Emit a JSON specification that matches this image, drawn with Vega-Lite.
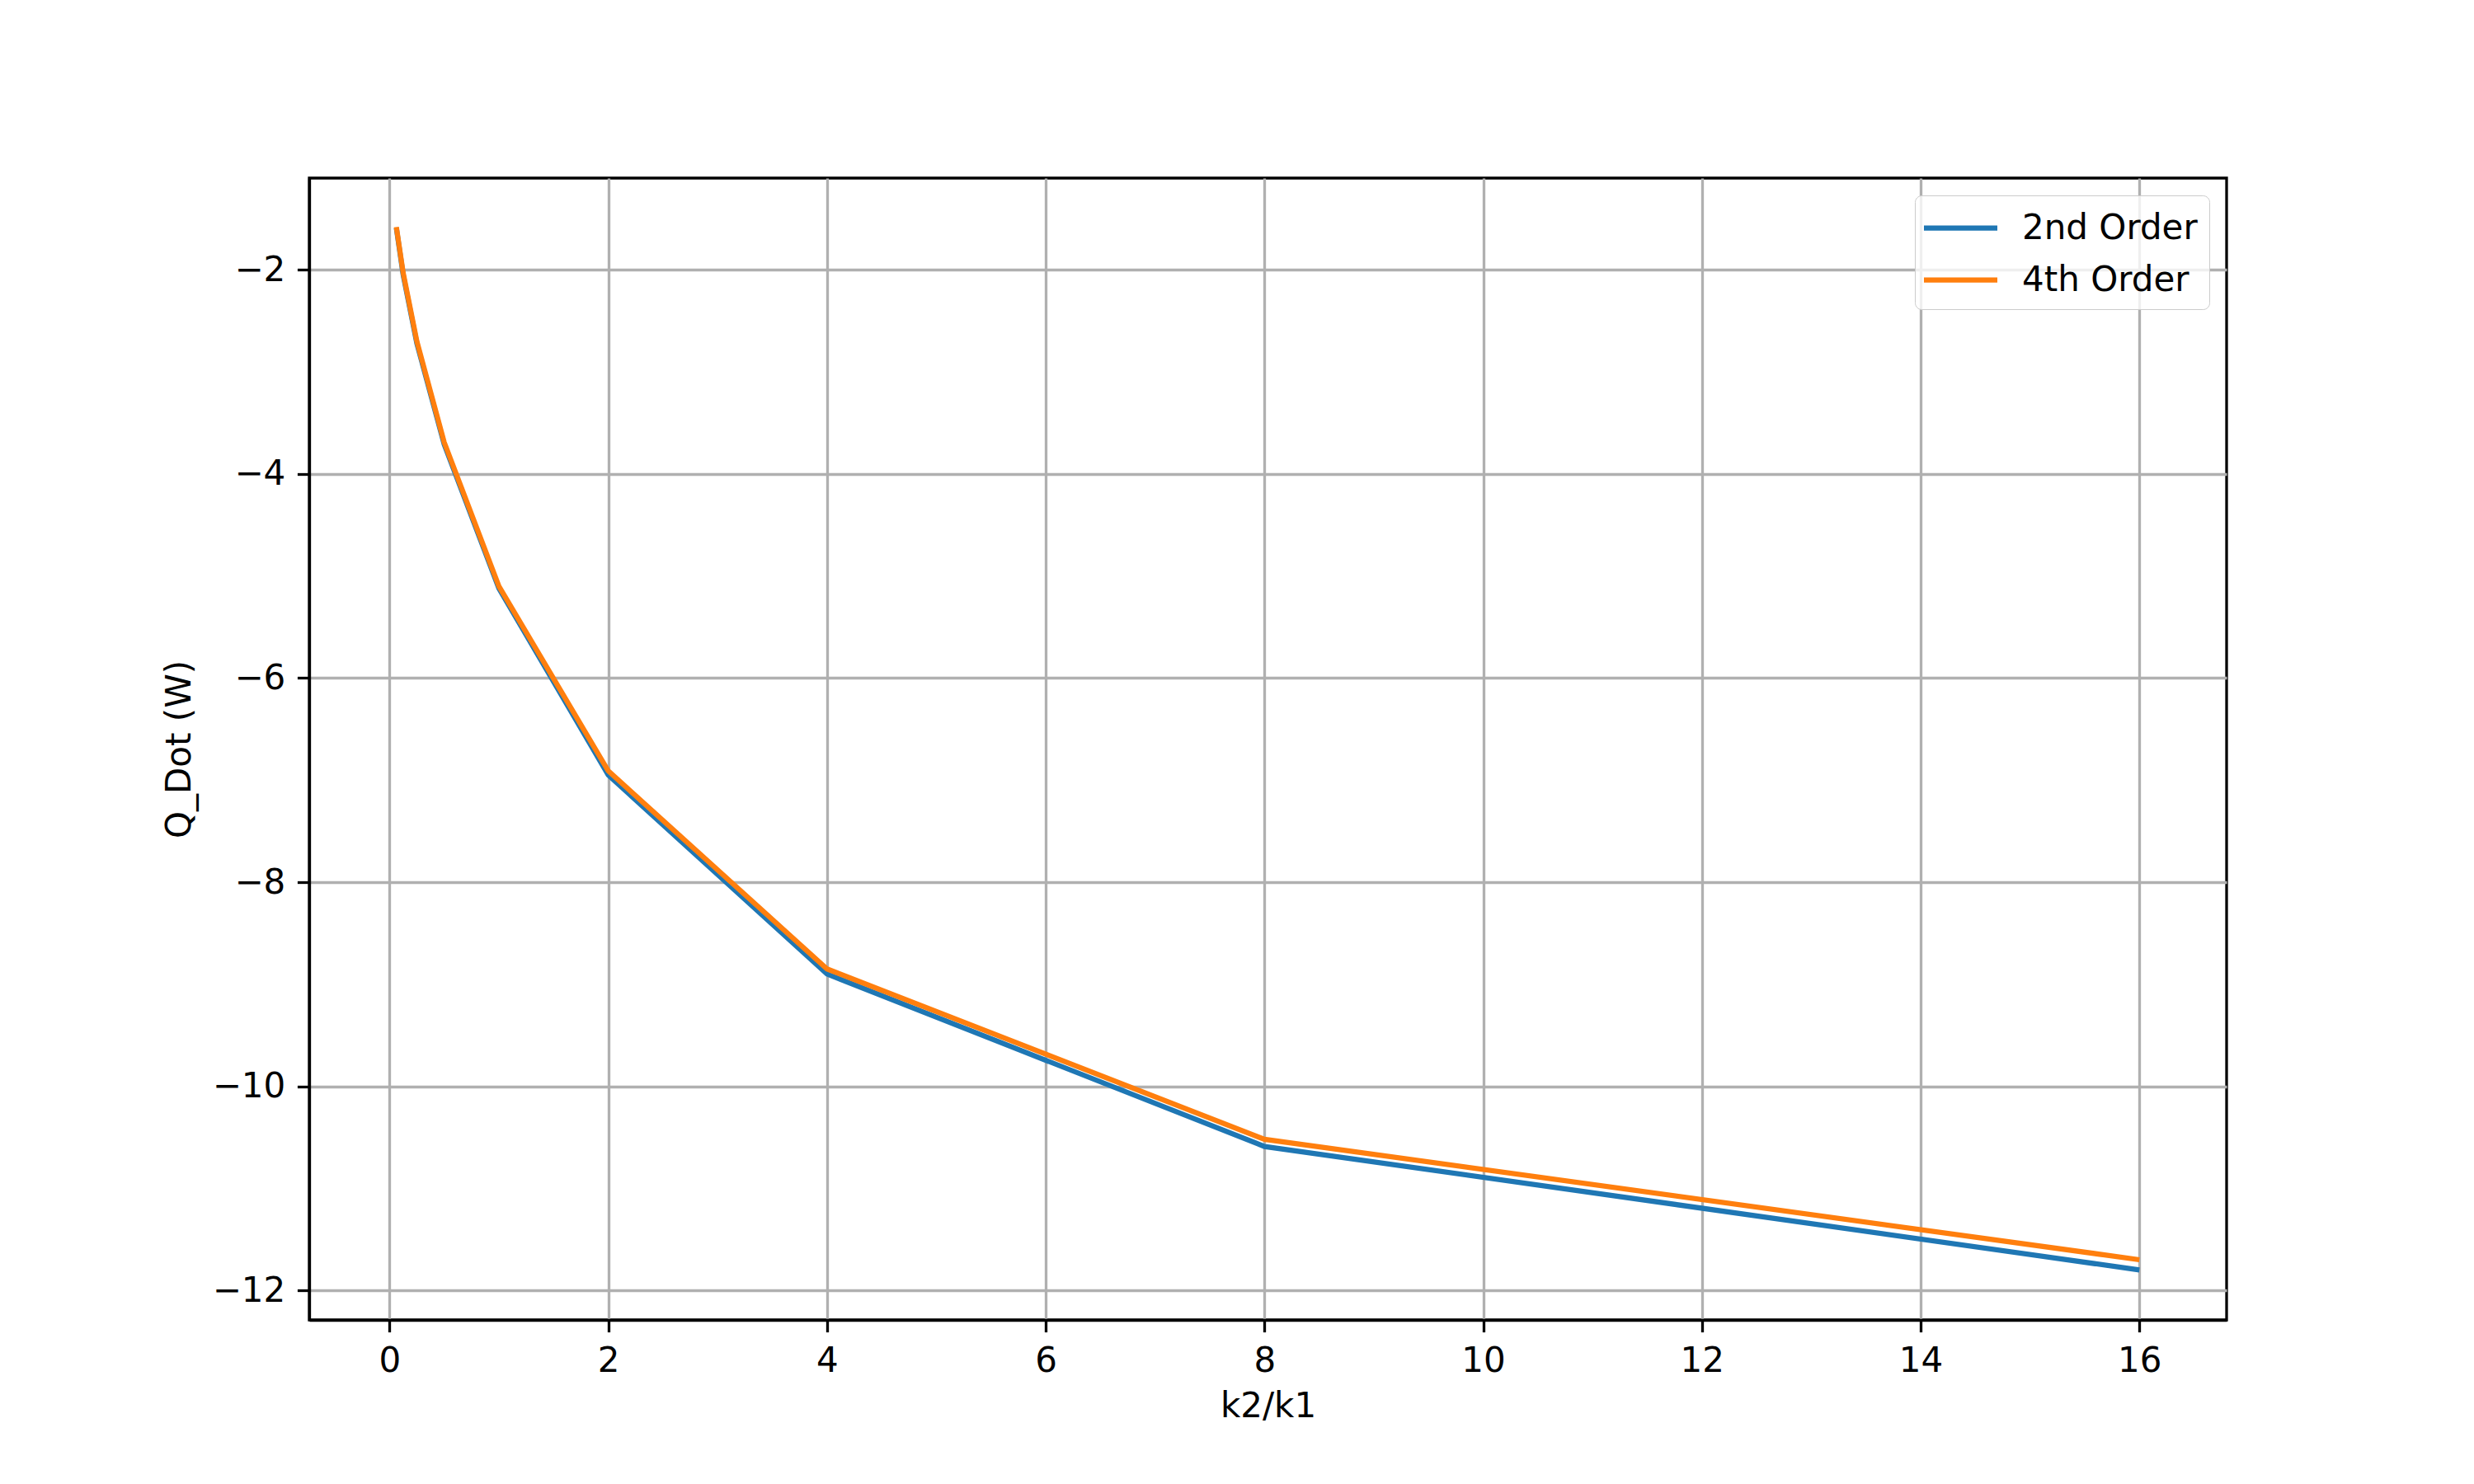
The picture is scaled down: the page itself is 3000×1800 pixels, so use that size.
{
  "$schema": "https://vega.github.io/schema/vega-lite/v6.json",
  "width": 2325,
  "height": 1385,
  "autosize": {"type": "none"},
  "padding": {"left": 375, "top": 216, "right": 300, "bottom": 199},
  "background": "white",
  "config": {
    "font": "DejaVu Sans",
    "view": {"stroke": "black", "strokeWidth": 3.3},
    "axis": {
      "labelFont": "DejaVu Sans",
      "titleFont": "DejaVu Sans",
      "labelFontSize": 42,
      "titleFontSize": 42,
      "titleFontWeight": "normal",
      "labelColor": "black",
      "titleColor": "black",
      "domainColor": "black",
      "domainWidth": 3.3,
      "tickColor": "black",
      "tickWidth": 3.3,
      "tickSize": 14.6,
      "labelPadding": 14.6,
      "gridColor": "#b0b0b0",
      "gridWidth": 3.3,
      "gridOpacity": 1
    },
    "legend": {
      "labelFont": "DejaVu Sans",
      "labelFontSize": 42,
      "labelColor": "black",
      "labelLimit": 1000
    }
  },
  "data": {
    "values": [
      {"ratio": 0.0625, "Q": -1.59, "series": "2nd Order"},
      {"ratio": 0.125, "Q": -2.05, "series": "2nd Order"},
      {"ratio": 0.25, "Q": -2.72, "series": "2nd Order"},
      {"ratio": 0.5, "Q": -3.71, "series": "2nd Order"},
      {"ratio": 1, "Q": -5.12, "series": "2nd Order"},
      {"ratio": 2, "Q": -6.95, "series": "2nd Order"},
      {"ratio": 4, "Q": -8.90, "series": "2nd Order"},
      {"ratio": 8, "Q": -10.59, "series": "2nd Order"},
      {"ratio": 16, "Q": -11.80, "series": "2nd Order"},
      {"ratio": 0.0625, "Q": -1.58, "series": "4th Order"},
      {"ratio": 0.125, "Q": -2.03, "series": "4th Order"},
      {"ratio": 0.25, "Q": -2.70, "series": "4th Order"},
      {"ratio": 0.5, "Q": -3.69, "series": "4th Order"},
      {"ratio": 1, "Q": -5.10, "series": "4th Order"},
      {"ratio": 2, "Q": -6.91, "series": "4th Order"},
      {"ratio": 4, "Q": -8.85, "series": "4th Order"},
      {"ratio": 8, "Q": -10.52, "series": "4th Order"},
      {"ratio": 16, "Q": -11.70, "series": "4th Order"}
    ]
  },
  "mark": {"type": "line", "strokeWidth": 6.25, "clip": true},
  "encoding": {
    "x": {
      "field": "ratio",
      "type": "quantitative",
      "title": "k2/k1",
      "scale": {"domain": [-0.734, 16.797], "nice": false, "zero": false},
      "axis": {"values": [0, 2, 4, 6, 8, 10, 12, 14, 16], "format": "d", "titlePadding": 14}
    },
    "y": {
      "field": "Q",
      "type": "quantitative",
      "title": "Q_Dot (W)",
      "scale": {"domain": [-12.29, -1.10], "nice": false, "zero": false},
      "axis": {"values": [-12, -10, -8, -6, -4, -2], "format": "d", "titlePadding": 18}
    },
    "color": {
      "field": "series",
      "type": "nominal",
      "scale": {"domain": ["2nd Order", "4th Order"], "range": ["#1f77b4", "#ff7f0e"]},
      "legend": {
        "title": null,
        "orient": "top-right",
        "offset": 21,
        "symbolType": "M-2,0L2,0",
        "symbolSize": 1980,
        "symbolStrokeWidth": 6.25,
        "symbolOffset": 16,
        "labelOffset": 49,
        "rowPadding": 16,
        "padding": 14,
        "fillColor": "rgba(255,255,255,0.8)",
        "strokeColor": "#cccccc",
        "cornerRadius": 8
      }
    }
  }
}
